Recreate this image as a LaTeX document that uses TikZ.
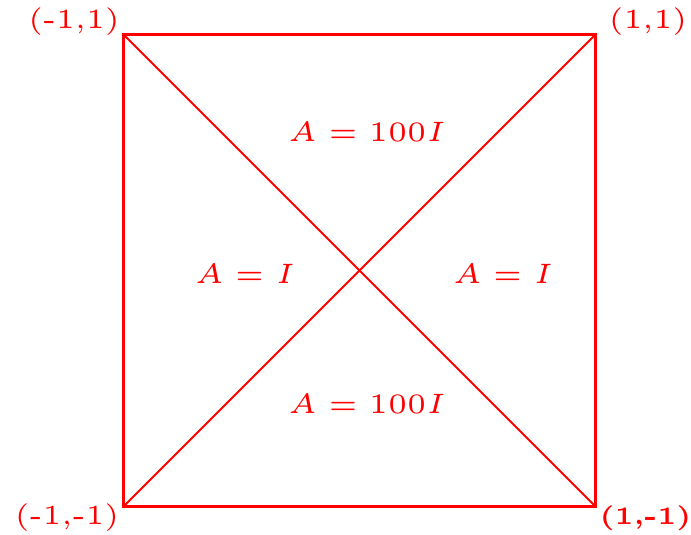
\documentclass[tikz,border=0pt]{standalone}
\usepackage{graphicx}
\begin{document}
\begin{tikzpicture}[x=0.02cm,y=-0.02cm,
  edge/.style={draw=red,line width=1.7pt},
  diag/.style={draw=red,line width=1.1pt},
  coordlbl/.style={text=red,inner sep=0pt,font=\tiny},
  arealbl/.style={text=red,inner sep=0pt,font=\tiny}]
\useasboundingbox (0,0) rectangle (691,535);
\coordinate (nw) at (123.5,34.5);
\coordinate (ne) at (595.5,34.5);
\coordinate (se) at (595.5,506.5);
\coordinate (sw) at (123.5,506.5);
\draw[edge] (nw) -- (ne) -- (se) -- (sw) -- cycle;
\draw[diag] (nw) -- (se);
\draw[diag] (sw) -- (ne);
\node[coordlbl] (lnw) at (74,22) {\scalebox{3.15}{(-1,1)}};
\node[coordlbl] (lne) at (648,22) {\scalebox{3.15}{(1,1)}};
\node[coordlbl] (lsw) at (67,518) {\scalebox{3.15}{(-1,-1)}};
\node[coordlbl] (lse) at (645.5,518) {\scalebox{2.85}{\bfseries(1,-1)}};
\node[arealbl] (top) at (367,132) {\scalebox{3.2}{$A = 100I$}};
\node[arealbl] (left) at (245,274) {\scalebox{3.2}{$A = I$}};
\node[arealbl] (right) at (503,274) {\scalebox{3.2}{$A = I$}};
\node[arealbl] (bot) at (367,404) {\scalebox{3.2}{$A = 100I$}};
\end{tikzpicture}
\end{document}
